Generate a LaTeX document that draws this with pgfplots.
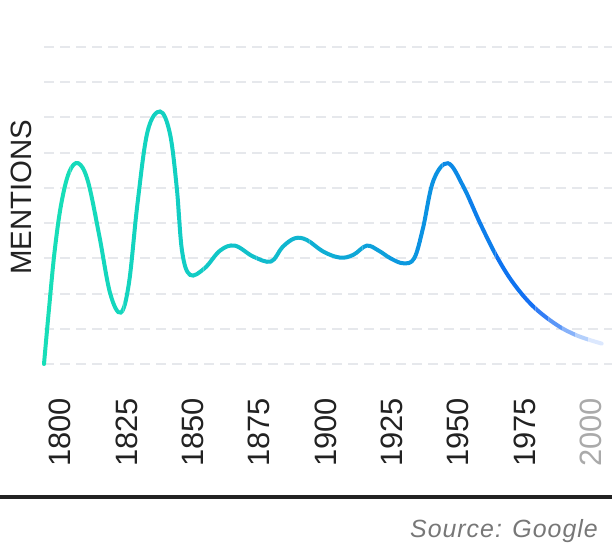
\documentclass[border=0pt]{standalone}
\usepackage{fontspec}
\setmainfont{Liberation Sans}
\usepackage{pgfplots}
\usepackage{pgfplotstable}
\pgfplotsset{compat=1.18}
\definecolor{gridc}{HTML}{E6E8EC}
\definecolor{labc}{HTML}{222222}
\definecolor{srcc}{HTML}{777777}
\definecolor{lastc}{HTML}{AAAAAA}

\pgfplotstableread{
year val
1800 0
1801.8 1.50
1804.0 3.20
1806.5 4.55
1809.5 5.45
1812.9 5.70
1816.5 5.20
1820.8 3.65
1824.9 2.01
1828.9 1.46
1832.0 2.30
1835.2 4.55
1839.0 6.60
1843.7 7.17
1847.4 6.55
1850.0 5.00
1852.0 3.20
1855.0 2.53
1860.5 2.72
1866.3 3.22
1871.9 3.36
1878.8 3.05
1885.5 2.91
1889.8 3.32
1894.5 3.57
1899.0 3.52
1905.2 3.19
1911.5 3.02
1916.5 3.10
1921.5 3.36
1926.0 3.22
1930.5 3.00
1935.3 2.86
1939.4 3.00
1942.7 3.85
1946.6 5.20
1952.1 5.70
1957.9 5.04
1964.2 4.00
1970.5 3.05
1976.8 2.29
1984.3 1.63
1993.1 1.11
2001.0 0.80
2010.0 0.58
}\curve

\newcommand\band[5]{%
  \begin{scope}
    \clip (axis cs:#1,-2) rectangle (axis cs:#2,12);
    \addplot[line width=4bp, smooth, tension=0.6, line cap=round, draw={rgb,255:red,#3;green,#4;blue,#5}] table[x=year,y=val] {\curve};
  \end{scope}}

\begin{document}
\begin{tikzpicture}
\path[use as bounding box] (0,0) rectangle (612bp,544bp);
\begin{axis}[
  at={(44bp,180bp)}, anchor=south west,
  scale only axis, width=568bp, height=317bp,
  xmin=1800, xmax=2013.9, ymin=0, ymax=9,
  clip=false,
  axis line style={draw=none},
  major tick length=0pt,
  ytick={0,1,...,9}, yticklabels={},
  ymajorgrids,
  grid style={draw=gridc, line width=2bp, dash pattern=on 10bp off 6bp},
  xtick={1800,1825,1850,1875,1900,1925,1950,1975,2000},
  xticklabels={1800,1825,1850,1875,1900,1925,1950,1975,{\textcolor{lastc}{2000}}},
  xticklabel style={font=\fontsize{31}{31}\selectfont, text=labc, rotate=90, anchor=east, inner sep=0pt, yshift=-16bp},
  xticklabel shift=34bp,
]
\band{1795}{1810}{23}{222}{184}
\band{1810}{1820}{22}{218}{187}
\band{1820}{1830}{20}{215}{189}
\band{1830}{1840}{19}{212}{191}
\band{1840}{1850}{18}{209}{193}
\band{1850}{1860}{18}{205}{196}
\band{1860}{1870}{17}{199}{199}
\band{1870}{1880}{17}{193}{202}
\band{1880}{1890}{17}{187}{205}
\band{1890}{1900}{16}{181}{208}
\band{1900}{1910}{15}{174}{212}
\band{1910}{1920}{14}{167}{215}
\band{1920}{1930}{13}{160}{219}
\band{1930}{1940}{12}{153}{223}
\band{1940}{1950}{11}{146}{226}
\band{1950}{1960}{12}{137}{230}
\band{1960}{1970}{13}{126}{235}
\band{1970}{1980}{14}{115}{240}
\band{1980}{1985}{20}{112}{243}
\band{1985}{1990}{50}{125}{245}
\band{1990}{1995}{90}{150}{247}
\band{1995}{2000}{135}{178}{250}
\band{2000}{2005}{180}{208}{252}
\band{2005}{2015}{220}{232}{254}
\end{axis}
\node[rotate=90, font=\fontsize{29.5}{30}\selectfont, text=labc, inner sep=0pt] at (21bp,347bp) {MENTIONS};
\draw[line width=4bp, draw=labc] (0,47bp) -- (612bp,47bp);
\node[anchor=base east, inner sep=0pt, text=srcc, font=\itshape\fontsize{25}{25}\selectfont\addfontfeatures{LetterSpace=4}] at (598bp,6.5bp) {Source: Google};
\end{tikzpicture}
\end{document}
